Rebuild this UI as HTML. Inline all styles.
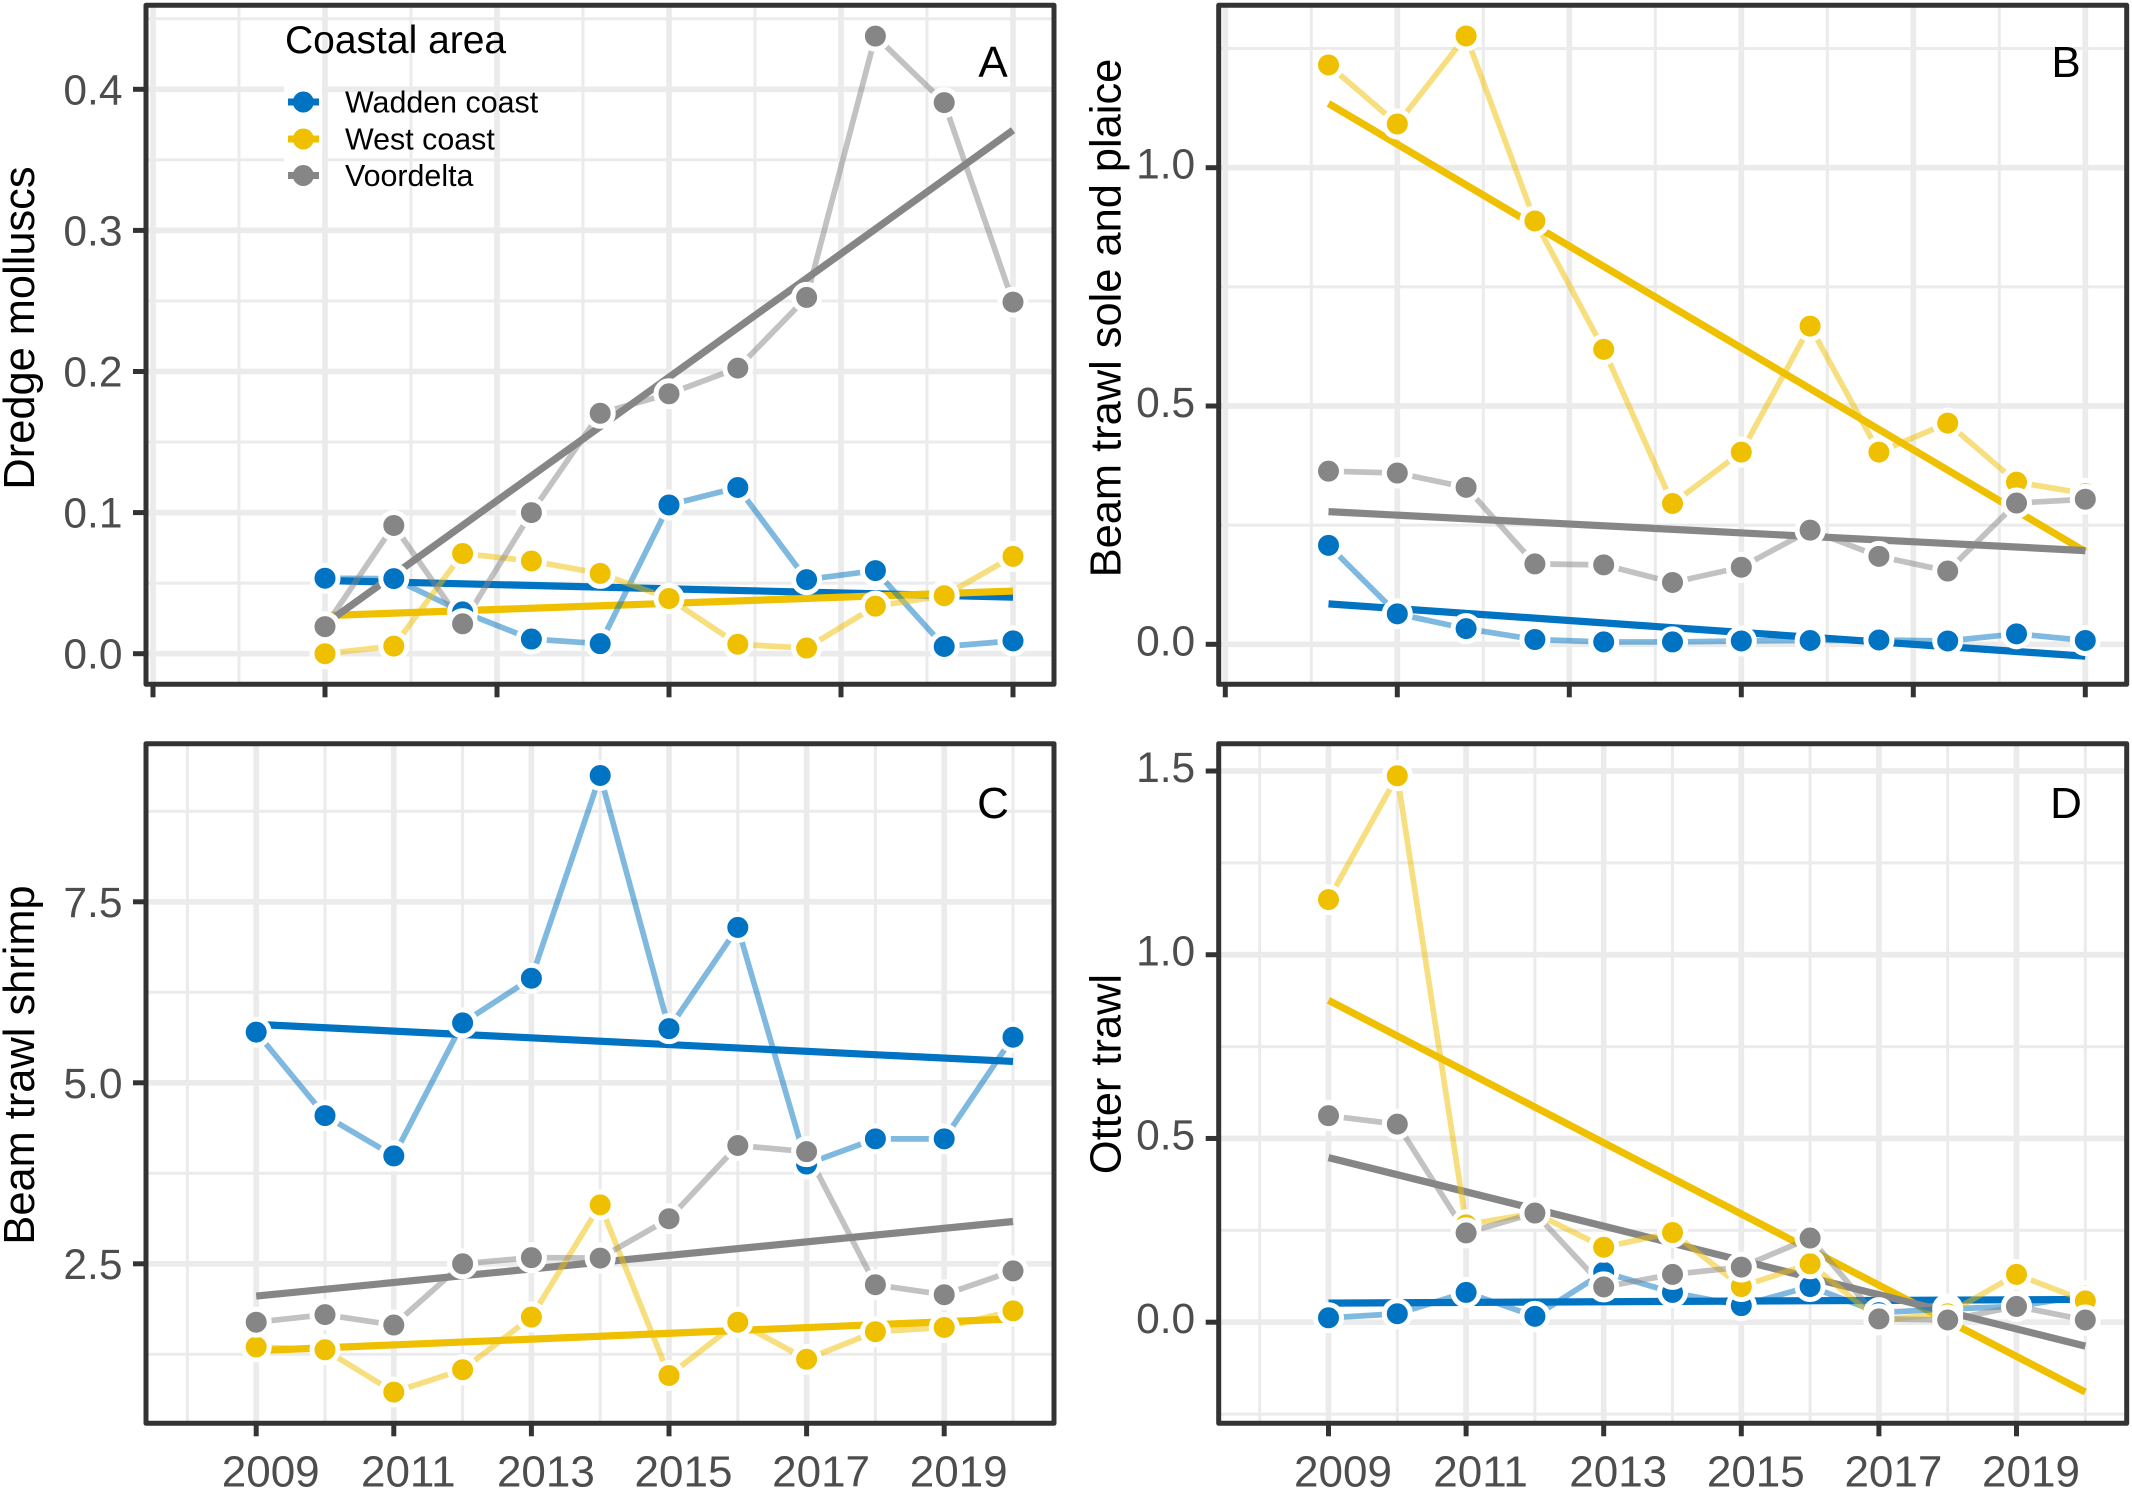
<!DOCTYPE html>
<html lang="en">
<head>
<meta charset="utf-8">
<title>Fishing effort trends by coastal area</title>
<style>
  html, body { margin: 0; padding: 0; background: #ffffff; }
  svg { display: block; font-family: "Liberation Sans", Arial, sans-serif; }
  .axis-title { font-size: 43.4px; fill: #000000; }
  .tick-label { font-size: 44px; fill: #4d4d4d; }
  .tick-label-y { font-size: 42.5px; fill: #4d4d4d; }
  .panel-letter { font-size: 44px; fill: #000000; text-anchor: middle; }
</style>
</head>
<body>
<svg id="figure" xmlns="http://www.w3.org/2000/svg" width="2132" height="1490" viewBox="0 0 2132 1490">
  <rect x="0" y="0" width="2132" height="1490" fill="#ffffff"/>
  <g id="layer-panels"></g>

  <g id="legend">
    <rect x="284" y="83" width="38" height="111" fill="#ffffff"/>
    <text x="285" y="53" font-size="39" fill="#000000">Coastal area</text>
    <g>
      <line x1="288" x2="319" y1="102" y2="102" stroke="#0073C2" stroke-width="7"/>
      <circle cx="303.3" cy="102" r="10.5" fill="#0073C2"/>
      <text x="345" y="112.7" font-size="30.4" fill="#000000">Wadden coast</text>
    </g>
    <g>
      <line x1="288" x2="319" y1="139" y2="139" stroke="#EFC000" stroke-width="7"/>
      <circle cx="303.3" cy="139" r="10.5" fill="#EFC000"/>
      <text x="345" y="149.3" font-size="30.4" fill="#000000">West coast</text>
    </g>
    <g>
      <line x1="288" x2="319" y1="175.5" y2="175.5" stroke="#868686" stroke-width="7"/>
      <circle cx="303.3" cy="175.5" r="10.5" fill="#868686"/>
      <text x="345" y="186" font-size="30.4" fill="#000000">Voordelta</text>
    </g>
  </g>

  <text class="panel-letter" x="993" y="77">A</text>
  <text class="panel-letter" x="2066" y="77">B</text>
  <text class="panel-letter" x="993" y="818">C</text>
  <text class="panel-letter" x="2066" y="818">D</text>

  <text class="axis-title" text-anchor="middle" transform="translate(34 328) rotate(-90)">Dredge molluscs</text>
  <text class="axis-title" text-anchor="middle" transform="translate(1120.4 318) rotate(-90)">Beam trawl sole and plaice</text>
  <text class="axis-title" text-anchor="middle" transform="translate(34 1065) rotate(-90)">Beam trawl shrimp</text>
  <text class="axis-title" text-anchor="middle" transform="translate(1120.4 1074) rotate(-90)">Otter trawl</text>
</svg>

<script>
// ---- categories ----
const yearsFrom2009 = [2009, 2010, 2011, 2012, 2013, 2014, 2015, 2016, 2017, 2018, 2019, 2020];
const yearsFrom2010 = [2010, 2011, 2012, 2013, 2014, 2015, 2016, 2017, 2018, 2019, 2020];

// ---- panel A: dredge molluscs ----
const dredgeWadden = [0.0535, 0.0532, 0.0296, 0.0104, 0.0071, 0.1054, 0.1178, 0.0525, 0.0589, 0.0051, 0.0091];
const dredgeWest = [0.0000, 0.0054, 0.0710, 0.0657, 0.0569, 0.0391, 0.0067, 0.0040, 0.0337, 0.0411, 0.0690];
const dredgeVoordelta = [0.0192, 0.0909, 0.0212, 0.1000, 0.1704, 0.1842, 0.2024, 0.2525, 0.4377, 0.3906, 0.2492];
const dredgeTrendWadden = [0.0519, 0.0401];
const dredgeTrendWest = [0.0270, 0.0444];
const dredgeTrendVoordelta = [0.0209, 0.3710];

// ---- panel B: beam trawl sole and plaice ----
const soleWadden = [0.2076, 0.0639, 0.0329, 0.0100, 0.0050, 0.0050, 0.0070, 0.0080, 0.0090, 0.0070, 0.0220, 0.0080];
const soleWest = [1.2156, 1.0918, 1.2764, 0.8882, 0.6188, 0.2954, 0.4032, 0.6677, 0.4032, 0.4641, 0.3403, 0.3164];
const soleVoordelta = [0.3633, 0.3593, 0.3293, 0.1687, 0.1667, 0.1297, 0.1617, 0.2395, 0.1846, 0.1537, 0.2964, 0.3044];
const soleTrendWadden = [0.0848, -0.0250];
const soleTrendWest = [1.1347, 0.1946];
const soleTrendVoordelta = [0.2784, 0.1966];

// ---- panel C: beam trawl shrimp ----
const shrimpWadden = [5.70, 4.547, 3.99, 5.827, 6.444, 9.245, 5.748, 7.146, 3.878, 4.226, 4.226, 5.63];
const shrimpWest = [1.352, 1.312, 0.728, 1.037, 1.765, 3.314, 0.958, 1.693, 1.181, 1.562, 1.621, 1.85];
const shrimpVoordelta = [1.693, 1.798, 1.654, 2.50, 2.585, 2.579, 3.123, 4.134, 4.049, 2.211, 2.073, 2.402];
const shrimpTrendWadden = [5.807, 5.295];
const shrimpTrendWest = [1.30, 1.739];
const shrimpTrendVoordelta = [2.054, 3.084];

// ---- panel D: otter trawl ----
const otterWadden = [0.012, 0.023, 0.081, 0.016, 0.136, 0.081, 0.045, 0.097, 0.026, 0.036, 0.043, 0.072];
const otterWest = [1.15, 1.487, 0.265, 0.297, 0.204, 0.244, 0.097, 0.159, 0.006, 0.023, 0.13, 0.058];
const otterVoordelta = [0.562, 0.539, 0.243, 0.297, 0.096, 0.130, 0.150, 0.229, 0.009, 0.006, 0.043, 0.006];
const otterTrendWadden = [0.052, 0.062];
const otterTrendWest = [0.876, -0.19];
const otterTrendVoordelta = [0.448, -0.065];

// ---- tick values and labels ----
const xTicksTop = [2007.5, 2010, 2012.5, 2015, 2017.5, 2020];
const xMinorTop = [2008.75, 2011.25, 2013.75, 2016.25, 2018.75];
const xTicksBottom = [2009, 2011, 2013, 2015, 2017, 2019];
const xMinorBottom = [2008, 2010, 2012, 2014, 2016, 2018, 2020];
const xTickLabelsBottom = ['2009', '2011', '2013', '2015', '2017', '2019'];

const yTicksA = [0, 0.1, 0.2, 0.3, 0.4];
const yLabelsA = ['0.0', '0.1', '0.2', '0.3', '0.4'];
const yMinorA = [0.05, 0.15, 0.25, 0.35, 0.45];

const yTicksB = [0, 0.5, 1.0];
const yLabelsB = ['0.0', '0.5', '1.0'];
const yMinorB = [0.25, 0.75, 1.25];

const yTicksC = [2.5, 5.0, 7.5];
const yLabelsC = ['2.5', '5.0', '7.5'];
const yMinorC = [1.25, 3.75, 6.25, 8.75];

const yTicksD = [0, 0.5, 1.0, 1.5];
const yLabelsD = ['0.0', '0.5', '1.0', '1.5'];
const yMinorD = [-0.25, 0.25, 0.75, 1.25];

// ---- drawing ----
const SVG_NS = 'http://www.w3.org/2000/svg';
const BLUE = '#0073C2', YELLOW = '#EFC000', GREY = '#868686';

function linearScale(d0, d1, r0, r1) {
  return function (v) { return r0 + (v - d0) * (r1 - r0) / (d1 - d0); };
}
function make(tag, parent) {
  const el = document.createElementNS(SVG_NS, tag);
  parent.appendChild(el);
  return el;
}

function drawPanel(p) {
  const root = document.getElementById('layer-panels');
  const x = linearScale(2010, 2020, p.xAt2010, p.xAt2020);
  const y = linearScale(p.yCal[0], p.yCal[1], p.yCal[2], p.yCal[3]);

  const g = make('g', root);
  
  

  const defs = make('defs', g);
  const clip = make('clipPath', defs);
  clip.setAttribute('id', p.id + '-clip');
  const clipRect = make('rect', clip);
  clipRect.setAttribute('x', p.left);
  clipRect.setAttribute('y', p.top);
  clipRect.setAttribute('width', p.right - p.left);
  clipRect.setAttribute('height', p.bottom - p.top);

  const plot = make('g', g);
  plot.setAttribute('clip-path', 'url(#' + p.id + '-clip)');
  
  

  function gridV(values, w) {
    values.forEach(function (v) {
      const l = make('line', plot);
      l.setAttribute('x1', x(v)); l.setAttribute('x2', x(v));
      l.setAttribute('y1', p.top); l.setAttribute('y2', p.bottom);
      l.setAttribute('stroke', '#ebebeb');
      l.setAttribute('stroke-width', w);
      
      
    });
  }
  function gridH(values, w) {
    values.forEach(function (v) {
      const l = make('line', plot);
      l.setAttribute('x1', p.left); l.setAttribute('x2', p.right);
      l.setAttribute('y1', y(v)); l.setAttribute('y2', y(v));
      l.setAttribute('stroke', '#ebebeb');
      l.setAttribute('stroke-width', w);
      
      
    });
  }
  gridV(p.xMinor, 3);
  gridH(p.yMinor, 3);
  gridV(p.xTicks, 5.7);
  gridH(p.yTicks, 5.7);

  // trend lines
  p.series.forEach(function (s) {
    const first = p.years[0], last = p.years[p.years.length - 1];
    const trend = make('line', plot);
    trend.setAttribute('x1', x(first));
    trend.setAttribute('y1', y(s.trend[0]));
    trend.setAttribute('x2', x(last));
    trend.setAttribute('y2', y(s.trend[1]));
    trend.setAttribute('stroke', s.color);
    trend.setAttribute('stroke-width', '7.2');
    
    
  });

  // connecting lines (translucent, above the trends)
  p.series.forEach(function (s) {
    const line = make('polyline', plot);
    line.setAttribute('points', p.years.map(function (yr, i) { return x(yr) + ',' + y(s.values[i]); }).join(' '));
    line.setAttribute('fill', 'none');
    line.setAttribute('stroke', s.color);
    line.setAttribute('stroke-opacity', '0.5');
    line.setAttribute('stroke-width', '5.7');
    
    
  });

  // points
  p.series.forEach(function (s) {
    p.years.forEach(function (yr, i) {
      const c = make('circle', plot);
      c.setAttribute('cx', x(yr));
      c.setAttribute('cy', y(s.values[i]));
      c.setAttribute('r', '13');
      c.setAttribute('fill', s.color);
      c.setAttribute('stroke', '#ffffff');
      c.setAttribute('stroke-width', '5');
      
      
    });
  });

  // panel border
  const border = make('rect', g);
  border.setAttribute('x', p.left);
  border.setAttribute('y', p.top);
  border.setAttribute('width', p.right - p.left);
  border.setAttribute('height', p.bottom - p.top);
  border.setAttribute('fill', 'none');
  border.setAttribute('stroke', '#333333');
  border.setAttribute('stroke-width', '5');
  border.setAttribute('stroke-linejoin', 'round');
  
  

  // x ticks
  p.xTicks.forEach(function (v, i) {
    const t = make('line', g);
    t.setAttribute('x1', x(v)); t.setAttribute('x2', x(v));
    t.setAttribute('y1', p.bottom); t.setAttribute('y2', p.bottom + 13);
    t.setAttribute('stroke', '#333333');
    t.setAttribute('stroke-width', '5');
    
    
    if (p.xLabels) {
      const lab = make('text', g);
      lab.setAttribute('x', x(v) + 14.5);
      lab.setAttribute('y', 1486.7);
      lab.setAttribute('text-anchor', 'middle');
      lab.setAttribute('class', 'tick-label');
      
      
      lab.textContent = p.xLabels[i];
    }
  });

  // y ticks
  p.yTicks.forEach(function (v, i) {
    const t = make('line', g);
    t.setAttribute('x1', p.left - 13); t.setAttribute('x2', p.left);
    t.setAttribute('y1', y(v)); t.setAttribute('y2', y(v));
    t.setAttribute('stroke', '#333333');
    t.setAttribute('stroke-width', '5');
    
    
    const lab = make('text', g);
    lab.setAttribute('x', p.left - 23.5);
    lab.setAttribute('y', y(v) + p.yLabelDy);
    lab.setAttribute('text-anchor', 'end');
    lab.setAttribute('class', 'tick-label-y');
    
    
    lab.textContent = p.yLabels[i];
  });
}

drawPanel({
  id: 'panel-a', left: 146, right: 1054, top: 5.3, bottom: 684.3,
  xAt2010: 325, xAt2020: 1013, yCal: [0, 0.4, 653.7, 89.3], yLabelDy: 15,
  years: yearsFrom2010, xTicks: xTicksTop, xMinor: xMinorTop, xLabels: null,
  yTicks: yTicksA, yMinor: yMinorA, yLabels: yLabelsA,
  series: [
    { name: 'wadden', color: BLUE, values: dredgeWadden, trend: dredgeTrendWadden },
    { name: 'west', color: YELLOW, values: dredgeWest, trend: dredgeTrendWest },
    { name: 'voordelta', color: GREY, values: dredgeVoordelta, trend: dredgeTrendVoordelta }
  ]
});
drawPanel({
  id: 'panel-b', left: 1218.7, right: 2126.7, top: 5.3, bottom: 684.3,
  xAt2010: 1397.3, xAt2020: 2085.3, yCal: [0, 1, 644.3, 167.7], yLabelDy: 11,
  years: yearsFrom2009, xTicks: xTicksTop, xMinor: xMinorTop, xLabels: null,
  yTicks: yTicksB, yMinor: yMinorB, yLabels: yLabelsB,
  series: [
    { name: 'wadden', color: BLUE, values: soleWadden, trend: soleTrendWadden },
    { name: 'west', color: YELLOW, values: soleWest, trend: soleTrendWest },
    { name: 'voordelta', color: GREY, values: soleVoordelta, trend: soleTrendVoordelta }
  ]
});
drawPanel({
  id: 'panel-c', left: 146, right: 1054, top: 743.7, bottom: 1423.3,
  xAt2010: 325, xAt2020: 1013, yCal: [2.5, 7.5, 1263.8, 901.8], yLabelDy: 15,
  years: yearsFrom2009, xTicks: xTicksBottom, xMinor: xMinorBottom, xLabels: xTickLabelsBottom,
  yTicks: yTicksC, yMinor: yMinorC, yLabels: yLabelsC,
  series: [
    { name: 'wadden', color: BLUE, values: shrimpWadden, trend: shrimpTrendWadden },
    { name: 'west', color: YELLOW, values: shrimpWest, trend: shrimpTrendWest },
    { name: 'voordelta', color: GREY, values: shrimpVoordelta, trend: shrimpTrendVoordelta }
  ]
});
drawPanel({
  id: 'panel-d', left: 1218.7, right: 2126.7, top: 743.7, bottom: 1423.3,
  xAt2010: 1397.3, xAt2020: 2085.3, yCal: [0, 1.5, 1322.2, 771], yLabelDy: 11,
  years: yearsFrom2009, xTicks: xTicksBottom, xMinor: xMinorBottom, xLabels: xTickLabelsBottom,
  yTicks: yTicksD, yMinor: yMinorD, yLabels: yLabelsD,
  series: [
    { name: 'wadden', color: BLUE, values: otterWadden, trend: otterTrendWadden },
    { name: 'west', color: YELLOW, values: otterWest, trend: otterTrendWest },
    { name: 'voordelta', color: GREY, values: otterVoordelta, trend: otterTrendVoordelta }
  ]
});
</script>
</body>
</html>
